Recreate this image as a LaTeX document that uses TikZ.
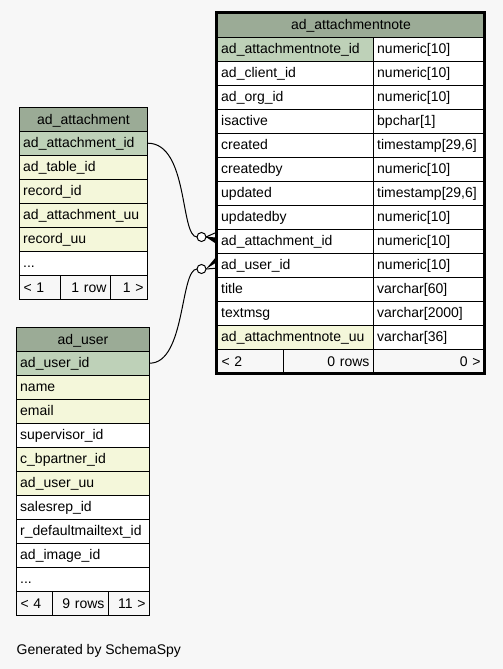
\documentclass[tikz,border=0pt]{standalone}
\usepackage{fontspec}
\setmainfont{Liberation Sans}
\usetikzlibrary{matrix}

\definecolor{bgcol}{HTML}{F7F7F7}
\definecolor{headcol}{HTML}{9BAB96}
\definecolor{pkcol}{HTML}{BED1B8}
\definecolor{idxcol}{HTML}{F4F7DA}

\begin{document}
\begin{tikzpicture}[x=1pt,y=-1pt,
        font=\fontsize{14}{16}\selectfont,
        tblcell/.style={draw,line width=1pt,inner xsep=4pt,inner ysep=0pt,minimum height=24pt,text height=11pt,text depth=2pt,align=left},
        tblhead/.style={tblcell,fill=headcol,align=center,anchor=north west},
        tblfoot/.style={tblcell,fill=bgcol,anchor=north west},
        tbl/.style={matrix of nodes,nodes in empty cells,anchor=north west,inner sep=0pt,row sep=-1pt,column sep=-1pt,nodes={tblcell,fill=white}},
        fkline/.style={line width=1pt}]
                \fill[bgcol] (0,0) rectangle (503,669);

                % ad_attachment
                \node[tblhead,text width=120pt] (atthead) at (19,107) {ad\_attachment};
                \matrix (att) [tbl,column 1/.style={nodes={text width=120pt}},
                    row 1/.style={nodes={fill=pkcol}},row 2/.style={nodes={fill=idxcol}},
                    row 3/.style={nodes={fill=idxcol}},row 4/.style={nodes={fill=idxcol}},
                    row 5/.style={nodes={fill=idxcol}}] at (18.5,130.5)
                {
                    ad\_attachment\_id \\
                    ad\_table\_id \\
                    record\_id \\
                    ad\_attachment\_uu \\
                    record\_uu \\
                    ... \\
                };
                \node[tblfoot,text width=33pt] (attf1) at (19,275) {< 1};
                \node[tblfoot,text width=42pt,align=right] (attf2) at (60,275) {1 row};
                \node[tblfoot,text width=29pt,align=right] (attf3) at (110,275) {1 >};

                % ad_user
                \node[tblhead,text width=125pt] (userhead) at (16,327) {ad\_user};
                \matrix (user) [tbl,column 1/.style={nodes={text width=125pt}},
                    row 1/.style={nodes={fill=pkcol}},row 2/.style={nodes={fill=idxcol}},
                    row 3/.style={nodes={fill=idxcol}},row 5/.style={nodes={fill=idxcol}},
                    row 6/.style={nodes={fill=idxcol}}] at (15.5,350.5)
                {
                    ad\_user\_id \\
                    name \\
                    email \\
                    supervisor\_id \\
                    c\_bpartner\_id \\
                    ad\_user\_uu \\
                    salesrep\_id \\
                    r\_defaultmailtext\_id \\
                    ad\_image\_id \\
                    ... \\
                };
                \node[tblfoot,text width=28pt] (userf1) at (16,591) {< 4};
                \node[tblfoot,text width=48pt,align=right] (userf2) at (52,591) {9 rows};
                \node[tblfoot,text width=33pt,align=right] (userf3) at (108,591) {11 >};

                % ad_attachmentnote
                \node[tblhead,text width=259pt] (notehead) at (217,13) {ad\_attachmentnote};
                \matrix (note) [tbl,column 1/.style={nodes={text width=148pt}},
                    column 2/.style={nodes={text width=103pt}},
                    row 1 column 1/.style={nodes={fill=pkcol}},
                    row 13 column 1/.style={nodes={fill=idxcol}}] at (216.5,36.5)
                {
                    ad\_attachmentnote\_id & numeric[10] \\
                    ad\_client\_id & numeric[10] \\
                    ad\_org\_id & numeric[10] \\
                    isactive & bpchar[1] \\
                    created & timestamp[29,6] \\
                    createdby & numeric[10] \\
                    updated & timestamp[29,6] \\
                    updatedby & numeric[10] \\
                    ad\_attachment\_id & numeric[10] \\
                    ad\_user\_id & numeric[10] \\
                    title & varchar[60] \\
                    textmsg & varchar[2000] \\
                    ad\_attachmentnote\_uu & varchar[36] \\
                };
                \node[tblfoot,text width=58pt] (notef1) at (217,349) {< 2};
                \node[tblfoot,text width=82pt,align=right] (notef2) at (283,349) {0 rows};
                \node[tblfoot,text width=103pt,align=right] (notef3) at (373,349) {0 >};
                \draw[line width=3pt] (216.5,12.5) rectangle (484.5,373.5);

                % relations
                \coordinate (o1) at (201.5,237);
                \coordinate (o2) at (201.5,269);
                \draw[fkline] (att-1-1.east) .. controls +(41,0) and +(-17,0) .. ([xshift=-4.5pt]o1);
                \draw[fkline,fill=white] (o1) circle (4.5pt);
                \draw[fkline] ([xshift=4.5pt]o1) -- ([shift={(0,-9)}]note-9-1.west);
                \draw[fkline] ([xshift=4.5pt]o1) -- ([shift={(0,-3)}]note-9-1.west);
                \fill ([xshift=4.5pt]o1) -- ([shift={(0,-3)}]note-9-1.west) -- ([shift={(0,3)}]note-9-1.west) -- cycle;

                \draw[fkline] (user-1-1.east) .. controls +(36,0) and +(-17,0) .. ([xshift=-4.5pt]o2);
                \draw[fkline,fill=white] (o2) circle (4.5pt);
                \draw[fkline] ([xshift=4.5pt]o2) -- ([shift={(0,3)}]note-10-1.west);
                \fill ([xshift=4.5pt]o2) -- ([shift={(0,-9)}]note-10-1.west) -- ([shift={(0,-3)}]note-10-1.west) -- cycle;

                \node[anchor=base west,inner sep=0pt] (credit) at (16.5,654) {Generated by SchemaSpy};
            \end{tikzpicture}
\end{document}
